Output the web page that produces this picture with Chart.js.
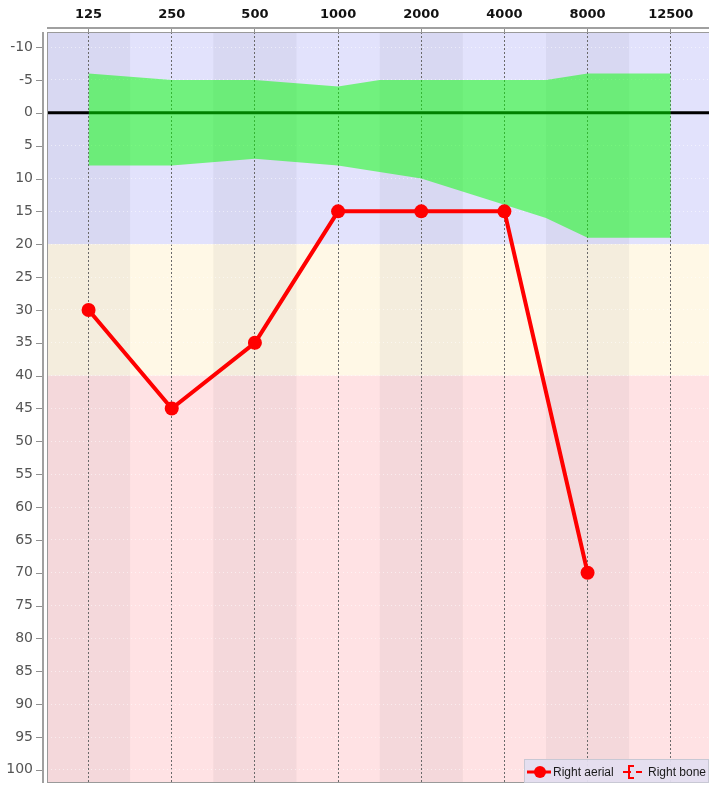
<!DOCTYPE html>
<html>
<head>
<meta charset="utf-8">
<script src="https://cdn.jsdelivr.net/npm/chart.js@4/dist/chart.umd.min.js"></script>
<style>
  html, body { margin: 0; padding: 0; background: #ffffff; overflow: hidden; }
  #wrap { width: 709px; height: 785px; position: relative; }
  canvas { display: block; }
</style>
</head>
<body>
<div id="wrap"><canvas id="c" width="709" height="785"></canvas></div>
<script>
// ---- data ----
const freqLabels = ['125', '250', '500', '1000', '2000', '4000', '8000', '12500'];
const rightAerial = [30, 45, 35, 15, 15, 15, 70, null];
const rightBone = [];
const normFreqs = [125, 250, 500, 1000, 1500, 2000, 4000, 6000, 8000, 12500];
const normUpper = [-6, -5, -5, -4, -5, -5, -5, -5, -6, -6];
const normLower = [8, 8, 7, 8, 9, 10, 14, 16, 19, 19];
const yTicks = [-10, -5, 0, 5, 10, 15, 20, 25, 30, 35, 40, 45, 50, 55, 60, 65, 70, 75, 80, 85, 90, 95, 100];
const zoneLimits = [20, 40];

// map a frequency onto the category positions of the audiogram axis
const labelFreqs = freqLabels.map(Number);
function freqToPos(f) {
  for (let i = 0; i < labelFreqs.length; i++) {
    if (labelFreqs[i] === f) return i;
    if (i < labelFreqs.length - 1 && f > labelFreqs[i] && f < labelFreqs[i + 1]) {
      return i + (f - labelFreqs[i]) / (labelFreqs[i + 1] - labelFreqs[i]);
    }
  }
  return null;
}

const aerialPts = rightAerial.map((v, i) => ({ x: i, y: v })).filter(p => p.y !== null);
const upperPts = normFreqs.map((f, i) => ({ x: freqToPos(f), y: normUpper[i] }));
const lowerPts = normFreqs.map((f, i) => ({ x: freqToPos(f), y: normLower[i] }));

const zoneColors = ['rgb(226,226,252)', 'rgb(255,248,230)', 'rgb(255,226,228)'];

function noPad(s) {
  s.paddingTop = 0; s.paddingBottom = 0; s.paddingLeft = 0; s.paddingRight = 0;
}

const bgPlugin = {
  id: 'audioBg',
  beforeDraw(chart) {
    const { ctx, chartArea: a, scales: { x, y } } = chart;
    ctx.save();
    const bounds = [y.min].concat(zoneLimits, [y.max]);
    for (let i = 0; i < bounds.length - 1; i++) {
      const p1 = y.getPixelForValue(bounds[i]);
      const p2 = y.getPixelForValue(bounds[i + 1]);
      const top = Math.max(a.top, Math.min(p1, p2));
      const bot = Math.min(a.bottom, Math.max(p1, p2));
      ctx.fillStyle = zoneColors[i];
      ctx.fillRect(a.left, top, a.right - a.left, bot - top);
    }
    // alternating column stripes
    ctx.fillStyle = 'rgba(0,0,30,0.045)';
    for (let i = 0; i < freqLabels.length; i += 2) {
      const l = Math.max(a.left, x.getPixelForValue(i - 0.5));
      const r = Math.min(a.right, x.getPixelForValue(i + 0.5));
      ctx.fillRect(l, a.top, r - l, a.bottom - a.top);
    }
    ctx.restore();
  },
  beforeDatasetsDraw(chart) {
    const { ctx, chartArea: a, scales: { y } } = chart;
    const py = y.getPixelForValue(0);
    ctx.save();
    ctx.strokeStyle = '#000000';
    ctx.lineWidth = 3;
    ctx.beginPath();
    ctx.moveTo(a.left, py);
    ctx.lineTo(a.right, py);
    ctx.stroke();
    ctx.restore();
  },
  afterDraw(chart) {
    const { ctx, chartArea: a, scales: { y } } = chart;
    ctx.save();
    // plot border
    ctx.strokeStyle = '#9a9a9a';
    ctx.lineWidth = 1;
    ctx.strokeRect(a.left + 0.5, a.top + 0.5, a.right - a.left, a.bottom - a.top - 1);
    // top axis line
    ctx.strokeStyle = '#a0a0a0';
    ctx.lineWidth = 2;
    ctx.beginPath();
    ctx.moveTo(a.left, a.top - 4);
    ctx.lineTo(a.right, a.top - 4);
    ctx.stroke();
    // left axis line
    ctx.beginPath();
    ctx.moveTo(a.left - 4, a.top);
    ctx.lineTo(a.left - 4, a.bottom);
    ctx.stroke();
    // y tick marks
    ctx.lineWidth = 1;
    ctx.strokeStyle = '#909090';
    yTicks.forEach(v => {
      const py = Math.round(y.getPixelForValue(v)) + 0.5;
      ctx.beginPath();
      ctx.moveTo(a.left - 11, py);
      ctx.lineTo(a.left - 5, py);
      ctx.stroke();
    });
    // legend
    const lw = 185, lh = 24;
    const lx = a.right - lw, ly = a.bottom - lh;
    ctx.fillStyle = 'rgba(228,222,240,0.95)';
    ctx.fillRect(lx, ly, lw, lh);
    ctx.strokeStyle = '#c8c8d4';
    ctx.strokeRect(lx + 0.5, ly + 0.5, lw - 1, lh - 1);
    const cy = ly + 13;
    const ds0 = chart.data.datasets[0];
    ctx.strokeStyle = ds0.borderColor;
    ctx.lineWidth = 3;
    ctx.beginPath();
    ctx.moveTo(lx + 3, cy);
    ctx.lineTo(lx + 27, cy);
    ctx.stroke();
    ctx.fillStyle = ds0.borderColor;
    ctx.beginPath();
    ctx.arc(lx + 16, cy, 6, 0, Math.PI * 2);
    ctx.fill();
    ctx.font = '12px "Liberation Sans", Arial, sans-serif';
    ctx.fillStyle = '#1a1a1a';
    ctx.textBaseline = 'middle';
    ctx.fillText(ds0.label, lx + 29, cy + 1);
    // bone symbol
    const bx = lx + 99;
    ctx.strokeStyle = '#ff0000';
    ctx.lineWidth = 2;
    ctx.beginPath();
    ctx.moveTo(bx, cy); ctx.lineTo(bx + 8, cy);
    ctx.moveTo(bx + 13, cy); ctx.lineTo(bx + 19, cy);
    ctx.moveTo(bx + 11, cy - 6); ctx.lineTo(bx + 6, cy - 6); ctx.lineTo(bx + 6, cy + 6); ctx.lineTo(bx + 11, cy + 6);
    ctx.stroke();
    ctx.fillStyle = '#1a1a1a';
    ctx.fillText(chart.data.datasets[1].label, bx + 25, cy + 1);
    ctx.restore();
  }
};

new Chart(document.getElementById('c'), {
  type: 'line',
  data: {
    datasets: [
      {
        label: 'Right aerial',
        data: aerialPts,
        borderColor: '#ff0000',
        backgroundColor: '#ff0000',
        borderWidth: 4,
        pointRadius: 7,
        pointBorderWidth: 0,
        pointBackgroundColor: '#ff0000',
        fill: false,
        tension: 0
      },
      {
        label: 'Right bone',
        data: rightBone,
        borderColor: '#ff0000',
        borderWidth: 2,
        borderDash: [4, 3],
        pointRadius: 0,
        fill: false
      },
      {
        label: 'Normal upper',
        data: upperPts,
        borderWidth: 0,
        borderColor: 'rgba(0,0,0,0)',
        pointRadius: 0,
        backgroundColor: 'rgba(0,255,0,0.5)',
        fill: '+1',
        tension: 0
      },
      {
        label: 'Normal lower',
        data: lowerPts,
        borderWidth: 0,
        borderColor: 'rgba(0,0,0,0)',
        pointRadius: 0,
        fill: false,
        tension: 0
      }
    ]
  },
  options: {
    responsive: false,
    animation: false,
    layout: { autoPadding: false, padding: { top: 0, left: 0, right: 0, bottom: 2 } },
    plugins: {
      legend: { display: false },
      tooltip: { enabled: false }
    },
    scales: {
      x: {
        type: 'linear',
        position: 'top',
        min: -0.5,
        max: 7.46,
        afterBuildTicks: s => { s.ticks = freqLabels.map((_, i) => ({ value: i })); },
        afterFit: s => { s.height = 32; noPad(s); },
        ticks: {
          callback: v => freqLabels[v],
          autoSkip: false,
          maxRotation: 0,
          padding: 6,
          color: '#111111',
          font: { family: 'DejaVu Sans', size: 13, weight: 'bold' }
        },
        grid: {
          color: '#6a6a6a',
          lineWidth: 1,
          drawTicks: true,
          tickLength: 4,
          tickColor: '#909090',
          tickBorderDash: []
        },
        border: { display: false, dash: [2, 2] }
      },
      y: {
        type: 'linear',
        reverse: true,
        min: -12.3,
        max: 102,
        afterBuildTicks: s => { s.ticks = yTicks.map(v => ({ value: v })); },
        afterFit: s => { s.width = 47; noPad(s); },
        ticks: {
          padding: 14,
          color: '#555555',
          font: { family: 'DejaVu Sans', size: 14 }
        },
        grid: {
          color: 'rgba(255,255,255,0.55)',
          lineWidth: 1,
          drawTicks: false
        },
        border: { display: false, dash: [1, 3] }
      }
    }
  },
  plugins: [bgPlugin]
});
</script>
</body>
</html>
